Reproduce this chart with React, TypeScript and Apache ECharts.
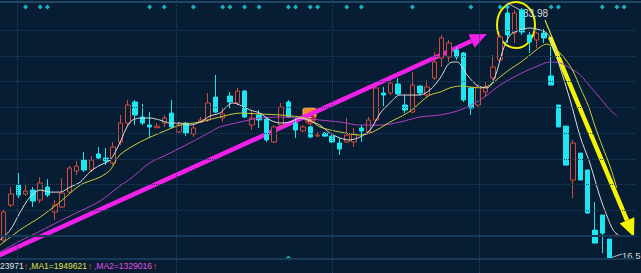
import React, { useEffect, useRef } from 'react';
import * as echarts from 'echarts';

// ---- data (prices) ----
const slotCount = 87;
const slots = Array.from({ length: slotCount }, (_, i) => String(i));

// [open, close, low, high]
const candles: number[][] = [
  [17.78, 19.72, 17.64, 19.86], [20.20, 20.97, 20.07, 21.45], [21.59, 20.90, 20.69, 22.42], [20.97, 21.17, 20.83, 21.59],
  [21.24, 20.48, 20.07, 21.45], [20.55, 21.73, 20.34, 22.14], [21.45, 20.90, 20.76, 22.00], [19.72, 20.20, 19.17, 20.55],
  [20.07, 21.03, 20.00, 22.07], [21.10, 22.77, 21.03, 22.90], [22.56, 22.90, 22.28, 23.25], [23.32, 22.63, 22.49, 23.87],
  [22.63, 23.32, 22.49, 23.60], [23.74, 23.46, 23.32, 24.22], [23.46, 23.25, 22.97, 24.15], [23.11, 24.22, 22.97, 24.57],
  [24.57, 25.88, 24.36, 26.44], [25.88, 27.13, 25.61, 27.48], [27.34, 26.44, 25.74, 27.48], [26.30, 25.88, 25.74, 27.20],
  [25.74, 25.61, 24.84, 26.64], [25.56, 25.67, 25.54, 25.88], [25.88, 26.23, 25.61, 26.44], [26.57, 25.61, 25.54, 27.48],
  [25.26, 25.74, 25.19, 25.95], [25.88, 25.19, 24.98, 25.95], [25.12, 25.54, 24.91, 25.74], [25.95, 26.09, 25.88, 26.30],
  [26.09, 27.27, 25.95, 27.96], [27.68, 26.64, 26.57, 29.21], [26.23, 26.51, 25.95, 26.99], [27.75, 27.34, 26.92, 28.03],
  [27.27, 28.10, 27.13, 28.31], [28.10, 26.30, 26.23, 28.17], [25.74, 26.23, 25.40, 26.78], [26.44, 26.09, 25.54, 26.78],
  [26.16, 24.71, 24.57, 26.30], [24.57, 25.61, 24.50, 25.74], [25.74, 26.99, 25.61, 27.27], [27.34, 26.30, 26.23, 27.48],
  [25.88, 25.40, 24.84, 26.23], [25.33, 25.61, 25.26, 25.74], [25.61, 24.91, 24.84, 25.74], [24.98, 25.05, 24.91, 25.26],
  [25.19, 24.98, 24.91, 25.26], [24.98, 24.57, 24.50, 25.05], [24.50, 24.08, 23.67, 24.84], [24.57, 25.05, 24.50, 26.23],
  [24.57, 25.12, 24.22, 25.54], [25.54, 25.33, 24.57, 25.74], [25.26, 26.09, 25.19, 26.30], [26.09, 28.31, 25.95, 28.38],
  [27.96, 27.82, 27.06, 28.38], [27.96, 28.65, 27.82, 28.86], [28.58, 27.89, 27.82, 29.00], [27.13, 26.78, 26.57, 27.82],
  [26.64, 28.51, 26.57, 29.41], [28.44, 27.96, 27.82, 28.51], [27.82, 28.38, 27.68, 28.86], [29.00, 30.11, 28.86, 30.80],
  [30.38, 31.77, 29.76, 31.98], [30.45, 31.42, 30.11, 31.63], [30.94, 30.45, 30.25, 31.15], [30.73, 27.48, 27.34, 30.80],
  [28.31, 26.92, 26.44, 28.38], [27.13, 28.38, 26.99, 28.51], [28.03, 28.38, 27.68, 28.72], [29.00, 29.76, 28.86, 30.59],
  [30.25, 31.84, 30.11, 32.11], [33.50, 31.98, 31.42, 33.98], [32.11, 33.50, 31.42, 33.71], [33.71, 32.18, 31.98, 33.85],
  [31.98, 31.49, 30.73, 32.18], [31.63, 32.11, 31.08, 32.18], [32.11, 31.77, 31.42, 32.39], [29.14, 28.51, 28.51, 31.15],
  [27.13, 25.61, 25.61, 27.13], [25.67, 22.97, 22.97, 25.67], [21.94, 24.50, 20.69, 24.71], [23.80, 21.94, 21.94, 23.80],
  [22.63, 19.65, 19.65, 22.63], [18.47, 17.57, 17.57, 20.41], [19.51, 18.26, 16.88, 19.51], [17.85, 16.53, 16.53, 17.85],
  [18.10, 18.13, 18.10, 18.13],
];

// moving averages: [slot position, price]
const ma5: number[][] = [
  [-0.5, 17.78], [0.9, 18.47], [2.2, 19.65], [3.6, 20.76], [5.0, 21.24], [6.4, 21.10], [7.7, 21.10], [9.1, 21.45],
  [10.5, 21.80], [11.8, 22.49], [13.2, 22.97], [14.6, 23.32], [15.9, 24.50], [17.3, 25.95], [18.7, 26.23], [20.0, 26.23],
  [21.4, 26.09], [22.8, 25.88], [24.2, 25.88], [25.5, 25.74], [26.9, 25.95], [28.3, 26.37], [29.6, 26.57], [31.4, 27.27],
  [33.8, 26.78], [35.1, 26.57], [36.5, 26.09], [37.9, 25.88], [39.2, 25.95], [40.6, 26.23], [42.0, 26.02], [43.3, 25.74],
  [44.7, 25.19], [46.1, 24.84], [47.4, 24.71], [48.8, 24.91], [50.2, 25.40], [51.6, 26.57], [52.9, 27.27], [54.3, 27.82],
  [55.7, 27.82], [57.0, 27.82], [58.4, 28.17], [59.8, 29.00], [61.1, 30.04], [62.1, 30.11], [63.5, 29.21], [64.8, 28.51],
  [66.2, 28.31], [67.3, 29.07], [68.4, 30.94], [69.4, 31.98], [70.7, 32.32], [72.1, 32.46], [73.5, 32.32], [74.2, 32.18],
  [74.8, 31.84], [76.2, 29.76], [77.6, 27.48], [79.0, 24.91], [80.3, 23.11], [81.7, 20.76], [82.7, 19.37], [83.5, 18.47],
  [84.2, 18.13],
];
const ma10: number[][] = [
  [-0.5, 17.43], [2.2, 18.47], [5.0, 19.37], [7.7, 20.41], [10.5, 21.59], [13.2, 22.14], [14.6, 22.63], [15.9, 23.67],
  [18.7, 24.57], [21.4, 25.19], [24.2, 25.74], [26.9, 25.95], [29.6, 26.30], [32.4, 26.57], [35.1, 26.51], [37.9, 26.44],
  [40.6, 26.30], [42.0, 26.09], [43.3, 25.61], [46.1, 25.26], [48.8, 25.05], [50.2, 25.19], [51.6, 25.54], [52.9, 25.95],
  [54.3, 26.30], [55.7, 26.71], [57.0, 27.27], [58.4, 27.82], [59.8, 28.03], [61.1, 28.31], [62.5, 28.44], [63.9, 28.38],
  [65.3, 28.31], [66.6, 28.51], [68.0, 29.07], [69.4, 29.62], [70.7, 30.04], [72.1, 30.59], [73.5, 31.15], [74.4, 31.35],
  [75.8, 30.94], [77.0, 30.25], [78.0, 29.48], [79.0, 28.31], [80.1, 27.06], [81.0, 25.67], [82.0, 24.29], [83.1, 22.84],
  [84.0, 21.38],
];
const ma20: number[][] = [
  [-0.5, 16.95], [2.2, 17.71], [5.0, 18.40], [7.7, 19.10], [10.5, 19.79], [13.2, 20.48], [15.9, 21.52], [17.3, 22.00],
  [20.0, 23.11], [22.8, 23.80], [25.5, 24.50], [28.3, 25.26], [29.6, 25.61], [32.4, 25.95], [35.1, 26.23], [37.9, 26.30],
  [40.6, 26.23], [43.3, 26.09], [46.1, 25.95], [48.8, 25.74], [51.6, 25.74], [54.3, 25.95], [57.0, 26.30], [59.8, 26.44],
  [62.5, 26.78], [65.3, 27.48], [68.0, 28.51], [70.7, 29.28], [73.5, 29.90], [74.8, 30.11], [76.2, 30.04], [77.6, 29.69],
  [79.0, 29.21], [80.3, 28.44], [81.7, 27.61], [83.1, 26.78], [84.0, 26.37],
];

const topSignals = [3, 5, 6, 20, 22, 26, 30, 31, 33, 35, 39, 40, 42, 43, 47, 49, 56, 64, 68, 69, 75, 76, 82, 84, 85];
const bottomSignals = [39];

const gridPrices = [32.32, 30.52, 28.79, 26.99, 25.19, 23.39, 21.66, 19.86];
const levelPrices = [18.06, 16.46];
const gridSlots = [1.8, 23.7, 45.0, 65.1];

const volText = '23971';
const ma1Text = ',MA1=1949621';
const ma2Text = ',MA2=1329016';

// ---- colours ----
const BG = '#071d33';
const RED = '#d24a3c';
const CYAN = '#1ee6f0';

function arrow(x1: number, y1: number, x2: number, y2: number, len: number, half: number, width: number, color: string) {
  const dx = x2 - x1, dy = y2 - y1;
  const d = Math.sqrt(dx * dx + dy * dy);
  const ux = dx / d, uy = dy / d;
  const bx = x2 - ux * len, by = y2 - uy * len;
  const px = -uy, py = ux;
  return [
    { type: 'line', shape: { x1, y1, x2: bx, y2: by }, style: { stroke: color, lineWidth: width } },
    {
      type: 'polygon',
      shape: { points: [[x2, y2], [bx + px * half, by + py * half], [bx - px * half, by - py * half]] },
      style: { fill: color },
    },
  ];
}

export default function App() {
  const ref = useRef<HTMLDivElement>(null);
  useEffect(() => {
    document.body.style.margin = '0';
    const chart = echarts.init(ref.current!, undefined, { renderer: 'svg' });
    const maxHigh = Math.max(...candles.map((c) => c[3]));
    const minLow = Math.min(...candles.map((c) => c[2]));
    const font = 'Liberation Sans, Arial, sans-serif';
    const bottomY = 266;
    const bt = (x: number, text: string, fill: string, size = 8.5) => ({
      type: 'text', x, y: bottomY,
      style: { text, fill, fontSize: size, fontFamily: font, verticalAlign: 'middle' },
    });

    chart.setOption({
      animation: false,
      backgroundColor: BG,
      grid: { left: 0, right: 5.9, top: 0, bottom: 0 },
      xAxis: [
        { type: 'category', data: slots, boundaryGap: true, show: false },
        { type: 'value', min: -0.5, max: slotCount - 0.5, show: false },
      ],
      yAxis: [
        { type: 'value', min: 15.5, max: 34.4, show: false },
        { type: 'value', min: 0, max: 1, show: false },
      ],
      series: [
        {
          type: 'line',
          xAxisIndex: 1,
          yAxisIndex: 0,
          data: [],
          z: 1,
          markLine: {
            silent: true,
            symbol: ['none', 'none'],
            label: { show: false },
            data: [
              ...gridPrices.map((v) => ({ yAxis: v, lineStyle: { type: 'dotted', color: '#1e4263', width: 1 } })),
              ...levelPrices.map((v) => ({ yAxis: v, lineStyle: { type: 'solid', color: '#173a58', width: 2 } })),
              ...gridSlots.map((v) => ({ xAxis: v, lineStyle: { type: 'dotted', color: '#1e4263', width: 1 } })),
            ],
          },
        },
        {
          type: 'candlestick',
          xAxisIndex: 0,
          yAxisIndex: 0,
          data: candles,
          barWidth: 5,
          z: 2,
          itemStyle: {
            color: BG,
            color0: CYAN,
            borderColor: RED,
            borderColor0: CYAN,
            borderWidth: 1,
          },
        },
        {
          type: 'line', xAxisIndex: 1, yAxisIndex: 0, data: ma20, showSymbol: false, symbol: 'none', smooth: 0.3, z: 3,
          lineStyle: { color: '#b040c0', width: 1 },
        },
        {
          type: 'line', xAxisIndex: 1, yAxisIndex: 0, data: ma10, showSymbol: false, symbol: 'none', smooth: 0.3, z: 3,
          lineStyle: { color: '#cccc3a', width: 1 },
        },
        {
          type: 'line', xAxisIndex: 1, yAxisIndex: 0, data: ma5, showSymbol: false, symbol: 'none', smooth: 0.3, z: 3,
          lineStyle: { color: '#dcdcdc', width: 1 },
        },
        {
          type: 'scatter', xAxisIndex: 0, yAxisIndex: 1, symbol: 'diamond', symbolSize: 5, z: 4,
          itemStyle: { color: '#1ed8e8' },
          data: topSignals.map((i) => [i, 0.974]),
        },
        {
          type: 'scatter', xAxisIndex: 0, yAxisIndex: 1, symbol: 'diamond', symbolSize: 5, z: 4,
          itemStyle: { color: '#1ed8c8' },
          data: bottomSignals.map((i) => [i, 0.055]),
        },
      ],
      graphic: [
        { type: 'rect', shape: { x: 0, y: 1, width: 641, height: 2 }, style: { fill: '#1e4866' } },
        // marker
        { type: 'rect', shape: { x: 303, y: 108, width: 13, height: 10, r: 2 }, style: { fill: '#f08c28', stroke: '#ffb050', lineWidth: 1 } },
        { type: 'circle', shape: { cx: 310, cy: 119, r: 5 }, style: { fill: '#a82424', stroke: '#e04a2a', lineWidth: 1 } },
        { type: 'text', x: 310, y: 119, style: { text: 'F', fill: '#ffffff', fontSize: 7, fontFamily: 'Liberation Sans', align: 'center', verticalAlign: 'middle' } },
        // thin straight yellow line
        { type: 'line', shape: { x1: 545, y1: 20, x2: 612, y2: 186 }, style: { stroke: '#d6d630', lineWidth: 1.2 } },
        ...arrow(-3, 256.4, 487, 34, 17, 7.5, 4.5, '#f020e8'),
        ...arrow(550, 37, 634, 237, 18, 8, 4.5, '#f4f400'),
        { type: 'ellipse', shape: { cx: 516, cy: 25, rx: 19, ry: 23 }, style: { fill: 'none', stroke: '#f0f000', lineWidth: 2 } },
        // high / low labels
        { type: 'line', shape: { x1: 507, y1: 3, x2: 522, y2: 11 }, style: { stroke: '#b8b8b8', lineWidth: 1 } },
        { type: 'text', x: 523, y: 13, style: { text: maxHigh.toFixed(2), fill: '#d8d8d8', fontSize: 10, fontFamily: 'Liberation Sans', verticalAlign: 'middle' } },
        { type: 'line', shape: { x1: 610, y1: 258, x2: 622, y2: 254 }, style: { stroke: '#b8b8b8', lineWidth: 1 } },
        { type: 'text', x: 622, y: 255, style: { text: minLow.toFixed(1), fill: '#d8d8d8', fontSize: 9.5, fontFamily: 'Liberation Sans', verticalAlign: 'middle' } },
        // bottom indicator row
        bt(0, volText, '#e6e6e6'),
        bt(23.5, '↑', '#e8403a', 10),
        bt(29, ma1Text, '#e0e048'),
        bt(87.5, '↑', '#e8403a', 10),
        bt(94, ma2Text, '#e050e0'),
        bt(152.5, '↑', '#e8403a', 10),
      ],
    });
    return () => chart.dispose();
  }, []);
  return <div ref={ref} style={{ position: 'fixed', left: 0, top: 0, width: 641, height: 273 }} />;
}
